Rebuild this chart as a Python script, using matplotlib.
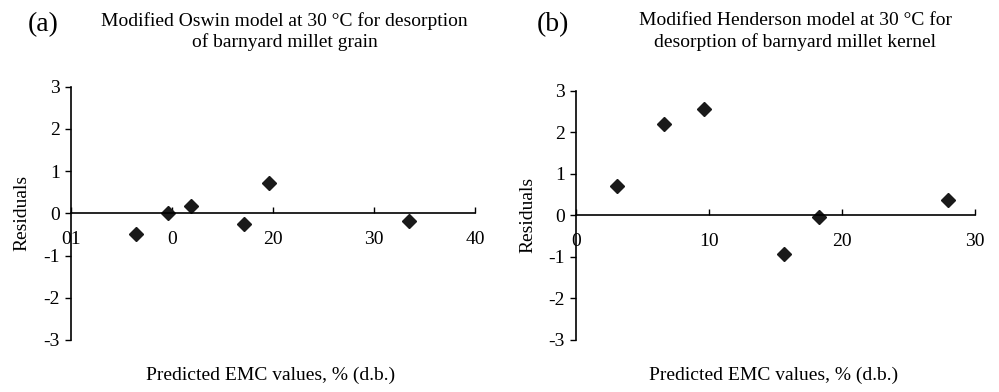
import matplotlib
matplotlib.use('Agg')
import matplotlib.pyplot as plt

plt.rcParams['font.family'] = ['Liberation Serif', 'DejaVu Serif']
plt.rcParams['axes.unicode_minus'] = False

# (a) Modified Oswin, barnyard millet grain
oswin_pred = [6.4, 9.6, 11.9, 17.1, 19.6, 33.5]
oswin_resid = [-0.50, 0.0, 0.17, -0.25, 0.72, -0.17]
oswin_xticks = [0, 10, 20, 30, 40]
oswin_xlabels = ['01', '0', '20', '30', '40']

# (b) Modified Henderson, barnyard millet kernel
hend_pred = [3.1, 6.6, 9.6, 15.6, 18.3, 28.0]
hend_resid = [0.71, 2.21, 2.55, -0.93, -0.05, 0.37]
hend_xticks = [0, 10, 20, 30]
hend_xlabels = ['0', '10', '20', '30']

yticks = [-3, -2, -1, 0, 1, 2, 3]

titles = ['Modified Oswin model at 30 °C for desorption\nof barnyard millet grain',
          'Modified Henderson model at 30 °C for\ndesorption of barnyard millet kernel']
panel_tags = ['(a)', '(b)']
xlabel = 'Predicted EMC values, % (d.b.)'

fig = plt.figure(figsize=(9.99, 3.92), dpi=100)
ax1 = fig.add_axes([0.0711, 0.1327, 0.4044, 0.6461])
ax2 = fig.add_axes([0.5766, 0.1327, 0.3994, 0.6359])


def style(ax, xt, xl, xmax):
    ax.set_xlim(0, xmax)
    ax.set_ylim(-3, 3)
    ax.spines['top'].set_visible(False)
    ax.spines['right'].set_visible(False)
    ax.spines['bottom'].set_position(('data', 0))
    ax.spines['left'].set_linewidth(1.2)
    ax.spines['bottom'].set_linewidth(1.2)
    ax.set_xticks(xt)
    ax.set_xticklabels(xl)
    ax.set_yticks(yticks)
    ax.tick_params(axis='x', direction='in', length=4, width=1, labelsize=14, pad=13)
    ax.tick_params(axis='y', direction='out', length=4, width=1, labelsize=14, pad=4)


style(ax1, oswin_xticks, oswin_xlabels, 40)
style(ax2, hend_xticks, hend_xlabels, 30)

ax1.plot(oswin_pred, oswin_resid, 'D', color='#1a1a1a', ms=7.5, clip_on=False)
ax2.plot(hend_pred, hend_resid, 'D', color='#1a1a1a', ms=7.5, clip_on=False)

for ax, t, tag, cx, tx in [(ax1, titles[0], panel_tags[0], 0.285, 0.043),
                           (ax2, titles[1], panel_tags[1], 0.796, 0.553)]:
    ax.set_ylabel('Residuals', fontsize=14)
    ax.yaxis.set_label_coords(-0.10, 0.5)
    fig.text(cx, 0.92, t, ha='center', va='center', fontsize=14, linespacing=1.25)
    fig.text(tx, 0.937, tag, ha='center', va='center', fontsize=20)

fig.text(0.271, 0.043, xlabel, ha='center', va='center', fontsize=14)
fig.text(0.774, 0.043, xlabel, ha='center', va='center', fontsize=14)

fig.savefig('out.png', dpi=100)
